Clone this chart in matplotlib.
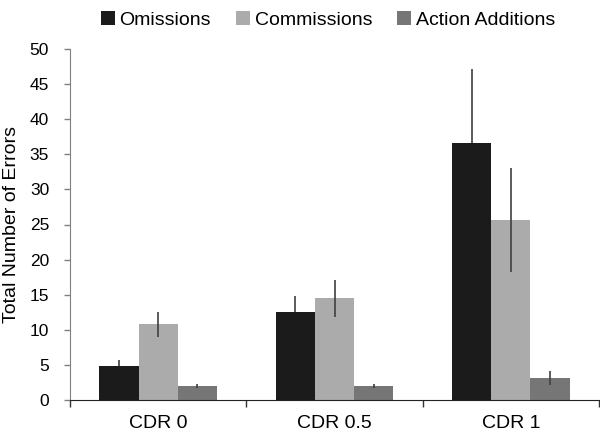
#!/usr/bin/env python3
"""Grouped bar chart of error counts by CDR group."""

import numpy as np
import matplotlib
matplotlib.use("Agg")
import matplotlib.pyplot as plt

plt.rcParams["font.family"] = ["Liberation Sans", "DejaVu Sans"]

CATEGORIES = ["CDR 0", "CDR 0.5", "CDR 1"]
SERIES = ["Omissions", "Commissions", "Action Additions"]
OMISSIONS = [4.8, 12.6, 36.6]
OMISSIONS_ERR = [0.9, 2.2, 10.5]
COMMISSIONS = [10.8, 14.5, 25.6]
COMMISSIONS_ERR = [1.8, 2.65, 7.4]
ADDITIONS = [2.0, 2.0, 3.2]
ADDITIONS_ERR = [0.3, 0.3, 1.0]

COLORS = ["#1b1b1b", "#ababab", "#767676"]
# the black bars hide the lower half of their error bars
ERR_ZORDER = [1.5, 3, 3]

values = [OMISSIONS, COMMISSIONS, ADDITIONS]
errors = [OMISSIONS_ERR, COMMISSIONS_ERR, ADDITIONS_ERR]

fig = plt.figure(figsize=(6.0, 4.32), dpi=100)
ax = fig.add_axes([70 / 600, 1 - 400 / 432, 529 / 600, 351 / 432])

x = np.arange(len(CATEGORIES))
width = 0.222
for i, (name, vals, errs) in enumerate(zip(SERIES, values, errors)):
    pos = x + (i - 1) * width
    ax.bar(pos, vals, width, color=COLORS[i], label=name, zorder=2)
    ax.errorbar(pos, vals, yerr=errs, fmt="none", ecolor="#404040",
                elinewidth=1.2, capsize=0, zorder=ERR_ZORDER[i])

ax.set_xlim(-0.5, len(CATEGORIES) - 0.5)
ax.set_ylim(0, 50)
ax.set_yticks(np.arange(0, 51, 5))
ax.set_xticks(x)
ax.set_xticklabels(CATEGORIES, fontsize=14)
ax.set_xticks(np.arange(-0.5, len(CATEGORIES)), minor=True)
ax.tick_params(axis="x", which="major", length=0, pad=11)
ax.tick_params(axis="x", which="minor", length=5, width=1, color="#333333")
ax.tick_params(axis="y", length=4, width=1, color="#808080", labelsize=12.5, pad=11)

ax.spines["top"].set_visible(False)
ax.spines["right"].set_visible(False)
ax.spines["left"].set_color("#808080")
ax.spines["bottom"].set_color("#222222")
ax.set_ylabel("Total Number of Errors", fontsize=14)
ax.yaxis.set_label_coords(-0.094, 0.5)

fig.legend(loc="upper center", bbox_to_anchor=(328 / 600, 1.015), ncol=3,
           frameon=False, fontsize=14, handlelength=0.7, handleheight=0.7,
           handletextpad=0.25, columnspacing=1.3)

fig.savefig("out.png", dpi=100)
